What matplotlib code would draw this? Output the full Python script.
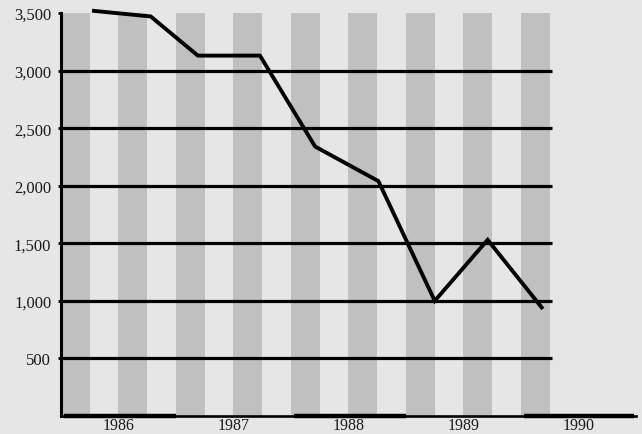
import matplotlib
matplotlib.use("Agg")
import matplotlib.pyplot as plt

# data
dates = [1986.27, 1986.78, 1987.19, 1987.73, 1988.21, 1988.76, 1989.25, 1989.71, 1990.19]
values = [3520, 3470, 3130, 3130, 2340, 2040, 1000, 1530, 930]
years = [1986, 1987, 1988, 1989, 1990]
grid_levels = [500, 1000, 1500, 2000, 2500, 3000]
ytick_vals = [500, 1000, 1500, 2000, 2500, 3000, 3500]
ytick_labels = ["500", "1,000", "1,500", "2,000", "2,500", "3,000", "3,500"]

bg = "#e6e6e6"
stripe = "#c0c0c0"

plt.rcParams["font.family"] = ["Liberation Serif", "DejaVu Serif"]

fig = plt.figure(figsize=(6.42, 4.35), dpi=100, facecolor=bg)
ax = fig.add_axes([61 / 642, 18 / 435, 575 / 642, 403 / 435])
ax.set_facecolor(bg)
ax.set_xlim(1986, 1991)
ax.set_ylim(0, 3500)

# quarter stripes (1st and 3rd quarter of each year)
for y in years:
    ax.axvspan(y, y + 0.25, color=stripe, lw=0, zorder=1)
    if y < 1990:
        ax.axvspan(y + 0.5, y + 0.75, color=stripe, lw=0, zorder=1)

# horizontal grid lines
ax.hlines(grid_levels, 1986, 1990.27, colors="black", lw=2.3, zorder=2)

# data line
ax.plot(dates, values, color="black", lw=2.8, solid_joinstyle="miter",
        solid_capstyle="butt", clip_on=False, zorder=3)

# alternate-year bars on the bottom axis
for y in years[::2]:
    ax.plot([y + 0.03, min(y + 1, 1990.98)], [0, 0], color="black", lw=3.2,
            solid_capstyle="butt", clip_on=False, zorder=4)

for side in ["top", "right"]:
    ax.spines[side].set_visible(False)
ax.spines["left"].set_linewidth(2.2)
ax.spines["bottom"].set_linewidth(1.9)
ax.spines["left"].set_zorder(5)

ax.set_yticks(ytick_vals)
ax.set_yticklabels(ytick_labels)
ax.tick_params(axis="y", length=2, width=2, pad=5, labelsize=12, labelcolor="#1a1a1a")
ax.set_xticks([y + 0.5 for y in years])
ax.set_xticklabels([str(y) for y in years])
ax.tick_params(axis="x", length=0, pad=1, labelsize=11.5, labelcolor="#1a1a1a")

fig.savefig("out.png", dpi=100, facecolor=bg)
